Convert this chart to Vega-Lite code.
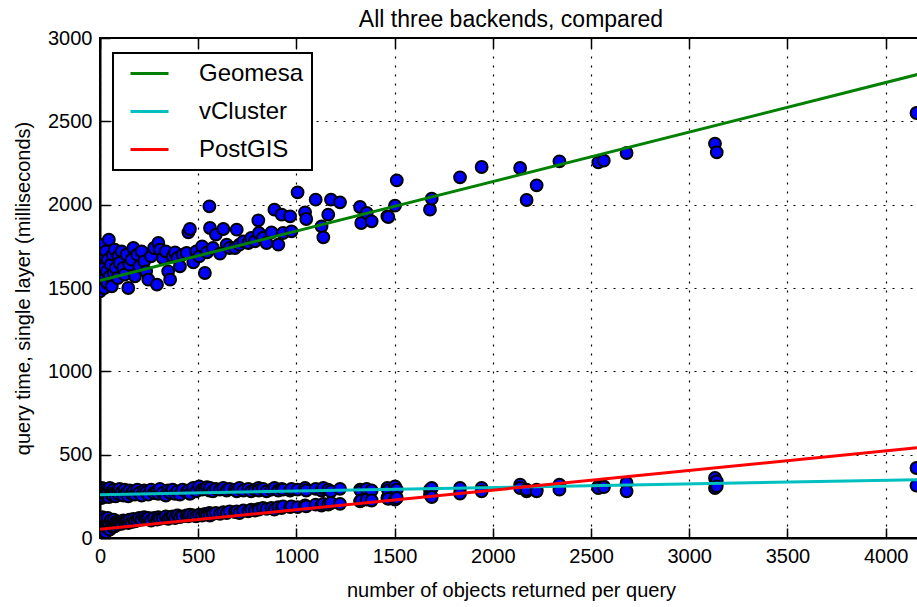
{
  "$schema": "https://vega.github.io/schema/vega-lite/v6.json",
  "width": 822,
  "height": 500,
  "autosize": {"type": "none"},
  "padding": {"left": 100, "top": 38, "right": 0, "bottom": 69},
  "background": "white",
  "title": {"text": "All three backends, compared", "fontSize": 23, "font": "Liberation Sans", "fontWeight": "normal", "color": "black", "anchor": "middle", "offset": -4},
  "datasets": {
    "queries": [
      {"n":0,"Geomesa":1480,"vCluster":250,"PostGIS":30},{"n":2,"Geomesa":1600,"vCluster":290,"PostGIS":110},{"n":5,"Geomesa":1700,"vCluster":265,"PostGIS":60},{"n":8,"Geomesa":1540,"vCluster":240,"PostGIS":45},{"n":10,"Geomesa":1650,"vCluster":300,"PostGIS":90},{"n":12,"Geomesa":1520,"vCluster":275,"PostGIS":125},{"n":15,"Geomesa":1760,"vCluster":255,"PostGIS":70},{"n":18,"Geomesa":1580,"vCluster":285,"PostGIS":40},{"n":20,"Geomesa":1620,"vCluster":245,"PostGIS":100},{"n":22,"Geomesa":1500,"vCluster":270,"PostGIS":55},{"n":25,"Geomesa":1690,"vCluster":295,"PostGIS":115},{"n":28,"Geomesa":1560,"vCluster":260,"PostGIS":80},{"n":30,"Geomesa":1720,"vCluster":280,"PostGIS":35},{"n":35,"Geomesa":1600,"vCluster":250,"PostGIS":95},{"n":38,"Geomesa":1530,"vCluster":290,"PostGIS":60},{"n":40,"Geomesa":1670,"vCluster":270,"PostGIS":120},{"n":45,"Geomesa":1790,"vCluster":245,"PostGIS":75},{"n":50,"Geomesa":1570,"vCluster":300,"PostGIS":50},{"n":55,"Geomesa":1640,"vCluster":265,"PostGIS":105},{"n":60,"Geomesa":1510,"vCluster":280,"PostGIS":85},{"n":65,"Geomesa":1700,"vCluster":255,"PostGIS":65},{"n":70,"Geomesa":1590,"vCluster":290,"PostGIS":110},{"n":75,"Geomesa":1730,"vCluster":270,"PostGIS":70},{"n":80,"Geomesa":1620,"vCluster":250,"PostGIS":95},{"n":90,"Geomesa":1560,"vCluster":285,"PostGIS":80},{"n":93,"Geomesa":1690,"vCluster":265,"PostGIS":100},{"n":100,"Geomesa":1650,"vCluster":295,"PostGIS":90},{"n":110,"Geomesa":1720,"vCluster":275,"PostGIS":85},{"n":119,"Geomesa":1620,"vCluster":255,"PostGIS":105},{"n":125,"Geomesa":1580,"vCluster":290,"PostGIS":95},{"n":135,"Geomesa":1700,"vCluster":270,"PostGIS":100},{"n":144,"Geomesa":1500,"vCluster":250,"PostGIS":90},{"n":150,"Geomesa":1640,"vCluster":285,"PostGIS":110},{"n":161,"Geomesa":1670,"vCluster":265,"PostGIS":95},{"n":170,"Geomesa":1740,"vCluster":280,"PostGIS":115},{"n":178,"Geomesa":1570,"vCluster":260,"PostGIS":100},{"n":190,"Geomesa":1700,"vCluster":290,"PostGIS":105},{"n":200,"Geomesa":1630,"vCluster":270,"PostGIS":120},{"n":212,"Geomesa":1720,"vCluster":255,"PostGIS":110},{"n":225,"Geomesa":1660,"vCluster":285,"PostGIS":125},{"n":235,"Geomesa":1600,"vCluster":275,"PostGIS":115},{"n":246,"Geomesa":1550,"vCluster":260,"PostGIS":120},{"n":260,"Geomesa":1690,"vCluster":290,"PostGIS":105},{"n":275,"Geomesa":1740,"vCluster":270,"PostGIS":120},{"n":290,"Geomesa":1520,"vCluster":280,"PostGIS":110},{"n":297,"Geomesa":1770,"vCluster":265,"PostGIS":125},{"n":305,"Geomesa":1730,"vCluster":295,"PostGIS":115},{"n":320,"Geomesa":1680,"vCluster":270,"PostGIS":120},{"n":335,"Geomesa":1720,"vCluster":255,"PostGIS":130},{"n":347,"Geomesa":1600,"vCluster":285,"PostGIS":115},{"n":357,"Geomesa":1550,"vCluster":270,"PostGIS":125},{"n":370,"Geomesa":1690,"vCluster":290,"PostGIS":130},{"n":382,"Geomesa":1714,"vCluster":265,"PostGIS":120},{"n":395,"Geomesa":1680,"vCluster":280,"PostGIS":135},{"n":407,"Geomesa":1630,"vCluster":260,"PostGIS":125},{"n":420,"Geomesa":1700,"vCluster":290,"PostGIS":130},{"n":441,"Geomesa":1710,"vCluster":275,"PostGIS":135},{"n":450,"Geomesa":1834,"vCluster":285,"PostGIS":130},{"n":458,"Geomesa":1854,"vCluster":265,"PostGIS":140},{"n":475,"Geomesa":1654,"vCluster":300,"PostGIS":135},{"n":490,"Geomesa":1720,"vCluster":280,"PostGIS":130},{"n":505,"Geomesa":1690,"vCluster":310,"PostGIS":140},{"n":520,"Geomesa":1750,"vCluster":290,"PostGIS":135},{"n":534,"Geomesa":1590,"vCluster":295,"PostGIS":145},{"n":545,"Geomesa":1714,"vCluster":305,"PostGIS":140},{"n":557,"Geomesa":1990,"vCluster":285,"PostGIS":150},{"n":560,"Geomesa":1860,"vCluster":300,"PostGIS":135},{"n":575,"Geomesa":1740,"vCluster":280,"PostGIS":145},{"n":590,"Geomesa":1820,"vCluster":295,"PostGIS":150},{"n":611,"Geomesa":1706,"vCluster":290,"PostGIS":145},{"n":628,"Geomesa":1854,"vCluster":300,"PostGIS":155},{"n":645,"Geomesa":1760,"vCluster":285,"PostGIS":150},{"n":660,"Geomesa":1740,"vCluster":295,"PostGIS":160},{"n":687,"Geomesa":1740,"vCluster":290,"PostGIS":155},{"n":696,"Geomesa":1850,"vCluster":280,"PostGIS":160},{"n":710,"Geomesa":1760,"vCluster":300,"PostGIS":150},{"n":730,"Geomesa":1780,"vCluster":285,"PostGIS":165},{"n":755,"Geomesa":1770,"vCluster":295,"PostGIS":160},{"n":770,"Geomesa":1800,"vCluster":280,"PostGIS":170},{"n":789,"Geomesa":1780,"vCluster":290,"PostGIS":165},{"n":806,"Geomesa":1906,"vCluster":300,"PostGIS":175},{"n":809,"Geomesa":1830,"vCluster":285,"PostGIS":170},{"n":830,"Geomesa":1800,"vCluster":295,"PostGIS":180},{"n":848,"Geomesa":1770,"vCluster":280,"PostGIS":175},{"n":873,"Geomesa":1834,"vCluster":290,"PostGIS":180},{"n":888,"Geomesa":1970,"vCluster":300,"PostGIS":170},{"n":908,"Geomesa":1760,"vCluster":285,"PostGIS":185},{"n":925,"Geomesa":1940,"vCluster":295,"PostGIS":180},{"n":932,"Geomesa":1830,"vCluster":290,"PostGIS":190},{"n":968,"Geomesa":1930,"vCluster":285,"PostGIS":185},{"n":975,"Geomesa":1840,"vCluster":295,"PostGIS":190},{"n":1006,"Geomesa":2074,"vCluster":290,"PostGIS":185},{"n":1044,"Geomesa":1954,"vCluster":300,"PostGIS":195},{"n":1050,"Geomesa":1914,"vCluster":285,"PostGIS":190},{"n":1098,"Geomesa":2030,"vCluster":295,"PostGIS":200},{"n":1128,"Geomesa":1870,"vCluster":285,"PostGIS":195},{"n":1137,"Geomesa":1804,"vCluster":300,"PostGIS":205},{"n":1162,"Geomesa":1940,"vCluster":290,"PostGIS":200},{"n":1176,"Geomesa":2030,"vCluster":280,"PostGIS":210},{"n":1222,"Geomesa":2014,"vCluster":295,"PostGIS":205},{"n":1324,"Geomesa":1986,"vCluster":290,"PostGIS":220},{"n":1330,"Geomesa":1890,"vCluster":280,"PostGIS":225},{"n":1358,"Geomesa":1950,"vCluster":295,"PostGIS":230},{"n":1383,"Geomesa":1900,"vCluster":285,"PostGIS":225},{"n":1463,"Geomesa":1930,"vCluster":300,"PostGIS":240},{"n":1468,"Geomesa":1926,"vCluster":285,"PostGIS":235},{"n":1502,"Geomesa":1994,"vCluster":310,"PostGIS":230},{"n":1511,"Geomesa":2146,"vCluster":290,"PostGIS":240},{"n":1680,"Geomesa":1970,"vCluster":290,"PostGIS":260},{"n":1689,"Geomesa":2036,"vCluster":300,"PostGIS":246},{"n":1833,"Geomesa":2164,"vCluster":300,"PostGIS":266},{"n":1943,"Geomesa":2226,"vCluster":300,"PostGIS":280},{"n":2139,"Geomesa":2220,"vCluster":320,"PostGIS":300},{"n":2172,"Geomesa":2028,"vCluster":280,"PostGIS":290},{"n":2223,"Geomesa":2116,"vCluster":290,"PostGIS":280},{"n":2339,"Geomesa":2260,"vCluster":320,"PostGIS":290},{"n":2537,"Geomesa":2254,"vCluster":310,"PostGIS":300},{"n":2565,"Geomesa":2264,"vCluster":310,"PostGIS":305},{"n":2681,"Geomesa":2310,"vCluster":330,"PostGIS":280},{"n":3131,"Geomesa":2366,"vCluster":360,"PostGIS":300},{"n":3140,"Geomesa":2314,"vCluster":340,"PostGIS":310},{"n":4157,"Geomesa":2550,"vCluster":314,"PostGIS":420}
    ],
    "fits": [
      {"backend":"Geomesa","n":0,"ms":1545},{"backend":"Geomesa","n":4300,"ms":2822},
      {"backend":"vCluster","n":0,"ms":260},{"backend":"vCluster","n":4300,"ms":353},
      {"backend":"PostGIS","n":0,"ms":52},{"backend":"PostGIS","n":4300,"ms":558}
    ]
  },
  "layer": [
    {
      "data": {"name": "queries"},
      "transform": [{"fold": ["Geomesa", "vCluster", "PostGIS"], "as": ["backend", "ms"]}],
      "mark": {"type": "point", "shape": "circle", "filled": true, "size": 140, "fill": "#0000ff", "stroke": "black", "strokeWidth": 2, "opacity": 1, "fillOpacity": 1, "strokeOpacity": 1, "clip": true},
      "encoding": {
        "x": {"field": "n", "type": "quantitative", "scale": {"domain": [0, 4185], "nice": false, "zero": false},
              "axis": {"orient": "bottom", "values": [0,500,1000,1500,2000,2500,3000,3500,4000], "format": "d", "labelFlush": false, "title": "number of objects returned per query", "grid": true}},
        "y": {"field": "ms", "type": "quantitative", "scale": {"domain": [0, 3000], "nice": false},
              "axis": {"values": [0,500,1000,1500,2000,2500,3000], "format": "d", "labelFlush": false, "title": "query time, single layer (milliseconds)", "grid": true}}
      }
    },
    {
      "data": {"name": "fits"},
      "mark": {"type": "line", "strokeWidth": 3, "clip": true},
      "encoding": {
        "x": {"field": "n", "type": "quantitative", "axis": {"orient": "top", "values": [0,500,1000,1500,2000,2500,3000,3500,4000], "labels": false, "grid": false, "domain": false, "title": null, "tickSize": -10}},
        "y": {"field": "ms", "type": "quantitative"},
        "color": {"field": "backend", "type": "nominal",
                  "scale": {"domain": ["Geomesa", "vCluster", "PostGIS"], "range": ["#008000", "#00bfbf", "#ff0000"]},
                  "legend": {"title": null, "orient": "none", "legendX": 13, "legendY": 15}}
      }
    }
  ],
  "resolve": {"axis": {"x": "independent"}},
  "config": {
    "view": {"stroke": "black", "strokeWidth": 2},
    "axis": {
      "labelFont": "Liberation Sans", "labelFontSize": 20, "labelColor": "black",
      "titleFont": "Liberation Sans", "titleFontSize": 20, "titleFontWeight": "normal", "titleColor": "black",
      "tickColor": "black", "tickWidth": 1.5, "tickSize": -10, "labelPadding": 18,
      "domainColor": "black", "domainWidth": 2,
      "gridColor": "black", "gridDash": [2, 7], "gridWidth": 1.2, "gridOpacity": 1
    },
    "axisY": {"titlePadding": 14},
    "axisX": {"titlePadding": 14},
    "legend": {
      "labelFont": "Liberation Sans", "labelFontSize": 24, "labelColor": "black",
      "symbolType": "stroke", "symbolSize": 1444, "symbolStrokeWidth": 3,
      "strokeColor": "black", "strokeWidth": 2, "fillColor": "white",
      "padding": 8, "symbolOffset": 8, "labelOffset": 29, "rowPadding": 13, "clipHeight": 25
    }
  }
}
